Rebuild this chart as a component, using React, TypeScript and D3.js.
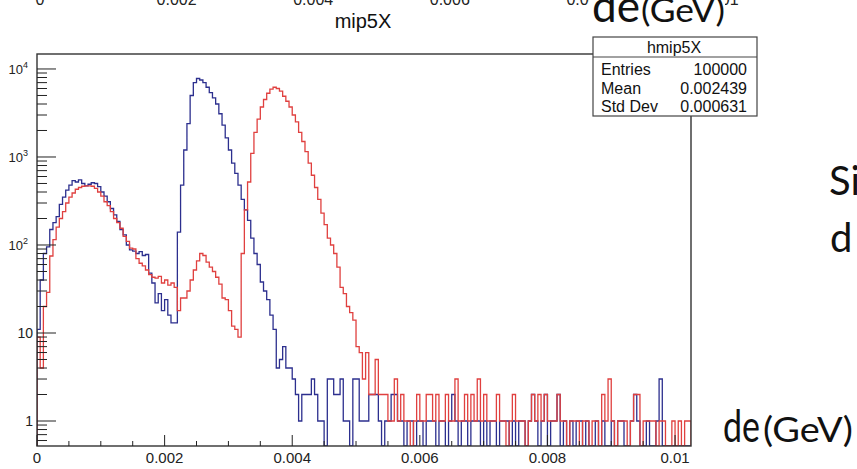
import React from "react";
import * as d3 from "d3";

// histogram binning (0 .. 0.01025 in 205 bins)
const BIN_WIDTH = 0.00005;
const X_MAX = 0.01025;
const Y_MIN = 0.52;
const Y_MAX = 14800;

// hmip5X (blue), counts per bin
const BLUE_COUNTS = [
  11, 40, 80, 95, 150, 180, 210, 290, 350, 420,
  480, 540, 520, 550, 500, 470, 490, 510, 500, 460,
  400, 360, 310, 260, 220, 185, 150, 130, 100, 88,
  85, 80, 84, 76, 78, 48, 37, 22, 28, 18,
  24, 16, 13, 13, 140, 480, 1200, 2400, 5000, 7000,
  7800, 7500, 7000, 6200, 5400, 4700, 4000, 3100, 2300, 1650,
  1200, 850, 650, 480, 330, 250, 190, 120, 80, 60,
  38, 30, 24, 16, 11, 4, 5, 7, 4, 4,
  3, 2, 1, 2, 2, 2, 3, 2, 1, 1,
  0, 3, 3, 2, 2, 3, 1, 1, 0, 3,
  3, 1, 1, 1, 2, 2, 2, 1, 0, 1,
  1, 2, 2, 1, 1, 0, 1, 1, 0, 1,
  1, 0, 1, 1, 1, 0, 1, 1, 0, 1,
  2, 1, 0, 1, 1, 0, 1, 1, 1, 0,
  1, 0, 1, 1, 0, 1, 1, 1, 0, 1,
  0, 1, 1, 0, 1, 2, 1, 0, 1, 2,
  0, 1, 1, 2, 0, 1, 0, 1, 0, 1,
  1, 0, 1, 0, 0, 1, 0, 1, 0, 0,
  1, 0, 1, 1, 0, 0, 1, 2, 1, 0,
  0, 1, 0, 0, 1, 3, 0, 0, 0, 0,
  0, 0, 0, 0, 0,
];

// second histogram (red)
const RED_COUNTS = [
  9, 4, 20, 29, 75, 115, 160, 200, 240, 300,
  350, 390, 430, 450, 465, 470, 470, 465, 440, 400,
  360, 310, 280, 240, 200, 180, 155, 125, 110, 92,
  90, 70, 62, 58, 52, 46, 43, 42, 44, 37,
  40, 35, 37, 33, 18, 25, 25, 30, 40, 52,
  66, 80, 76, 64, 56, 50, 43, 36, 25, 24,
  18, 12, 11, 9, 80, 250, 520, 1100, 1900, 2700,
  3700, 4500, 5300, 5900, 6200, 6000, 5600, 4900, 4300, 3700,
  3000, 2500, 1900, 1500, 1150, 850, 620, 450, 330, 230,
  170, 120, 100, 80, 56, 33, 28, 20, 17, 14,
  7, 6, 3, 6, 2, 2, 5, 2, 2, 2,
  1, 1, 3, 1, 2, 1, 1, 0, 1, 2,
  1, 1, 2, 2, 1, 2, 1, 1, 2, 1,
  1, 3, 1, 1, 2, 1, 2, 1, 3, 1,
  2, 1, 1, 1, 2, 1, 1, 0, 1, 2,
  1, 1, 1, 0, 1, 2, 1, 2, 1, 2,
  1, 1, 1, 2, 1, 1, 0, 1, 1, 1,
  0, 1, 1, 0, 1, 1, 0, 2, 1, 3,
  1, 0, 1, 1, 1, 0, 1, 2, 2, 0,
  1, 1, 1, 1, 0, 1, 1, 0, 0, 1,
  0, 1, 0, 1, 1,
];

const X_TICKS = [0, 0.002, 0.004, 0.006, 0.008, 0.01];
const X_TICK_LABELS = ["0", "0.002", "0.004", "0.006", "0.008", "0.01"];
const Y_DECADES = [1, 10, 100, 1000, 10000];
const Y_DECADE_LABELS = ["1", "10", "2", "3", "4"];
const STATS_ROWS = [
  ["Entries", "100000"],
  ["Mean", "0.002439"],
  ["Std Dev", "0.000631"],
];
// x labels of the plot above, cut off by the slide edge
const TOP_CUT_LABELS = ["0", "0.002", "0.004", "0.006", "0.008", "0.01"];

const W = 857;
const H = 469;
const frame = { left: 37, right: 691, top: 54, bottom: 446 };

const BLUE = "#2c2f8e";
const RED = "#e0403f";

export default function App() {
  const x = d3.scaleLinear().domain([0, X_MAX]).range([frame.left, frame.right]);
  const y = d3.scaleLog().domain([Y_MIN, Y_MAX]).range([frame.bottom, frame.top]);

  const line = d3
    .line<[number, number]>()
    .x((d) => x(d[0]))
    .y((d) => y(d[1]));

  const histPath = (counts: number[]) => {
    const pts: [number, number][] = [[0, Y_MIN]];
    counts.forEach((c, i) => {
      const v = Math.max(c, Y_MIN);
      pts.push([i * BIN_WIDTH, v], [(i + 1) * BIN_WIDTH, v]);
    });
    pts.push([counts.length * BIN_WIDTH, Y_MIN]);
    return line(pts) || "";
  };

  // minor x ticks every 0.0005
  const xMinor = d3.range(0, 0.01001, 0.0005).filter(
    (t) => Math.abs(t / 0.002 - Math.round(t / 0.002)) > 1e-6
  );

  // y ticks 2..9 x 10^k
  const yMinor: number[] = [];
  for (let k = -1; k <= 4; k++) {
    for (let m = 2; m <= 9; m++) {
      const v = m * Math.pow(10, k);
      if (v >= Y_MIN && v <= Y_MAX) yMinor.push(v);
    }
  }

  const topLabelX = d3.scaleLinear().domain([0, 0.01]).range([40, 723]);

  return (
    <svg
      width={W}
      height={H}
      style={{ position: "absolute", left: 0, top: 0, background: "#fff" }}
    >
      <defs>
        <clipPath id="frame-clip">
          <rect
            x={frame.left}
            y={frame.top}
            width={frame.right - frame.left}
            height={frame.bottom - frame.top}
          />
        </clipPath>
      </defs>

      {/* remains of the plot above */}
      <g fontFamily="'Liberation Sans', Arial, sans-serif" fontSize={16} fill="#222">
        {TOP_CUT_LABELS.map((t, i) => (
          <text key={t} x={topLabelX(X_TICKS[i])} y={5} textAnchor="middle">
            {t}
          </text>
        ))}
      </g>
      <text
        x={363}
        y={28}
        textAnchor="middle"
        fontFamily="'Liberation Sans', Arial, sans-serif"
        fontSize={20}
        fill="#111"
      >
        mip5X
      </text>

      {/* histograms */}
      <g clipPath="url(#frame-clip)" fill="none" strokeWidth={1.3}>
        <path d={histPath(BLUE_COUNTS)} stroke={BLUE} />
        <path d={histPath(RED_COUNTS)} stroke={RED} />
      </g>

      {/* frame */}
      <rect
        x={frame.left}
        y={frame.top}
        width={frame.right - frame.left}
        height={frame.bottom - frame.top}
        fill="none"
        stroke="#333"
        strokeWidth={1.4}
      />

      {/* x ticks */}
      <g stroke="#222" strokeWidth={1}>
        {X_TICKS.map((t) => (
          <line key={t} x1={x(t)} x2={x(t)} y1={frame.bottom} y2={frame.bottom - 11} />
        ))}
        {xMinor.map((t) => (
          <line key={t} x1={x(t)} x2={x(t)} y1={frame.bottom} y2={frame.bottom - 5} />
        ))}
      </g>
      <g fontFamily="'Liberation Sans', Arial, sans-serif" fontSize={15} fill="#222" textAnchor="middle">
        {X_TICKS.map((t, i) => (
          <text key={t} x={x(t)} y={463}>
            {X_TICK_LABELS[i]}
          </text>
        ))}
      </g>

      {/* y ticks */}
      <g stroke="#222" strokeWidth={1}>
        {Y_DECADES.map((v) => (
          <line key={v} x1={frame.left} x2={frame.left + 19} y1={y(v)} y2={y(v)} />
        ))}
        {yMinor.map((v) => (
          <line key={v} x1={frame.left} x2={frame.left + 10} y1={y(v)} y2={y(v)} />
        ))}
      </g>
      <g fontFamily="'Liberation Sans', Arial, sans-serif" fill="#222" textAnchor="end">
        {Y_DECADES.map((v, i) =>
          v < 100 ? (
            <text key={v} x={33} y={y(v) + 5} fontSize={14}>
              {Y_DECADE_LABELS[i]}
            </text>
          ) : (
            <text key={v} x={28} y={y(v) + 5} fontSize={13}>
              10
              <tspan dy={-6} fontSize={9}>
                {Y_DECADE_LABELS[i]}
              </tspan>
            </text>
          )
        )}
      </g>

      {/* stats box */}
      <g fontFamily="'Liberation Sans', Arial, sans-serif" fill="#111">
        <rect x={593} y={37} width={164} height={79} fill="#fff" stroke="#444" strokeWidth={1.2} />
        <line x1={593} x2={757} y1={57} y2={57} stroke="#444" strokeWidth={1.2} />
        <text x={674} y={53} textAnchor="middle" fontSize={16}>
          hmip5X
        </text>
        {STATS_ROWS.map((r, i) => (
          <g key={r[0]} fontSize={16}>
            <text x={601} y={75 + i * 18.5}>
              {r[0]}
            </text>
            <text x={747} y={75 + i * 18.5} textAnchor="end">
              {r[1]}
            </text>
          </g>
        ))}
      </g>

      {/* slide text */}
      <rect x={589} y={0} width={136} height={31} fill="#fff" />
      <g fontFamily="Lato, 'Open Sans', sans-serif" fill="#111">
        <text x={592} y={22} fontSize={44} textLength={48} lengthAdjust="spacingAndGlyphs">
          de
        </text>
        <text x={641} y={22} fontSize={32} textLength={84} lengthAdjust="spacingAndGlyphs">
          (GeV)
        </text>
        <text x={829} y={195} fontSize={40}>
          Si
        </text>
        <text x={830} y={252} fontSize={40}>
          d
        </text>
        <text x={723} y={442} fontSize={44} textLength={37} lengthAdjust="spacingAndGlyphs">
          de
        </text>
        <text x={763} y={442} fontSize={35} textLength={90} lengthAdjust="spacingAndGlyphs">
          (GeV)
        </text>
      </g>
    </svg>
  );
}
